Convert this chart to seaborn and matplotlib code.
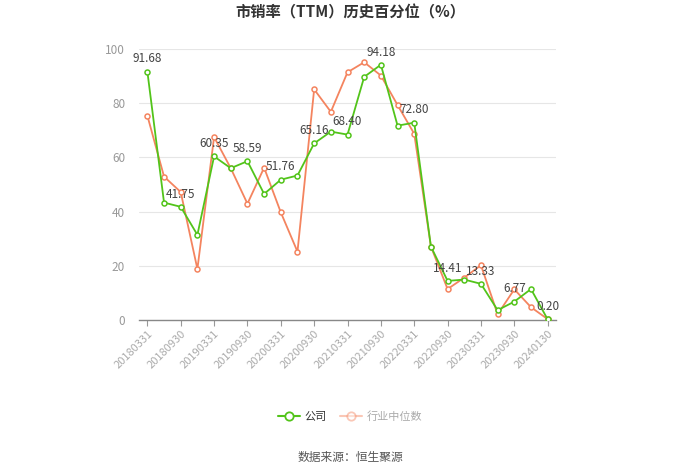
import matplotlib
matplotlib.use("Agg")
import matplotlib.pyplot as plt
import seaborn as sns
import pandas as pd
from matplotlib.lines import Line2D

dates = ["20180331", "20180630", "20180930", "20181231", "20190331", "20190630",
         "20190930", "20191231", "20200331", "20200630", "20200930", "20201231",
         "20210331", "20210630", "20210930", "20211231", "20220331", "20220630",
         "20220930", "20221231", "20230331", "20230630", "20230930", "20231231",
         "20240130"]
company = [91.68, 43.3, 41.75, 31.4, 60.35, 56.0, 58.59, 46.5, 51.76, 53.3,
           65.16, 69.5, 68.40, 89.7, 94.18, 71.7, 72.80, 27.1, 14.41, 14.9,
           13.33, 3.6, 6.77, 11.4, 0.20]
industry = [75.4, 52.9, 47.2, 18.8, 67.5, 56.0, 42.9, 56.2, 39.7, 25.2,
            85.1, 76.8, 91.4, 95.1, 90.2, 79.3, 68.7, 27.1, 11.4, 15.6,
            20.2, 2.1, 11.3, 4.7, 0.3]

GREEN = "#52c41a"
ORANGE = "#f4845f"

sns.set_theme(style="white")
plt.rcParams['font.family'] = ['Noto Sans CJK SC', 'DejaVu Sans']

df = pd.DataFrame({"idx": range(len(dates)), "date": dates,
                   "company": company, "industry": industry})

fig = plt.figure(figsize=(7, 4.74), dpi=100)
ax = fig.add_axes([0.1986, 0.325, 0.5957, 0.5717])

sns.lineplot(data=df, x="idx", y="industry", ax=ax, color=ORANGE, lw=1.3,
             marker="o", markersize=3.6, markerfacecolor="white",
             markeredgecolor=ORANGE, markeredgewidth=1.1, zorder=3)
sns.lineplot(data=df, x="idx", y="company", ax=ax, color=GREEN, lw=1.3,
             marker="o", markersize=3.6, markerfacecolor="white",
             markeredgecolor=GREEN, markeredgewidth=1.1, zorder=4)

for i in range(0, len(dates), 2):
    ax.text(i, company[i] + 2.3, f"{company[i]:.2f}", ha="center", va="bottom",
            fontsize=8.5, color="#444444", zorder=5)

ax.set_xlim(-0.5, len(dates) - 0.5)
ax.set_ylim(0, 100)
ax.set_yticks([0, 20, 40, 60, 80, 100])
ax.set_xticks(range(0, len(dates), 2))
ax.set_xticklabels(dates[::2], rotation=45, ha="right", rotation_mode="anchor",
                   fontsize=8, color="#aaaaaa")
ax.tick_params(axis="y", labelsize=8.5, colors="#999999", length=0, pad=10)
ax.tick_params(axis="x", length=4, color="#999999", width=0.8, bottom=True, pad=2)
ax.set_xlabel("")
ax.set_ylabel("")
ax.grid(axis="y", color="#e6e6e6", lw=0.8)
ax.grid(axis="x", visible=False)
for s in ["top", "right", "left"]:
    ax.spines[s].set_visible(False)
ax.spines["bottom"].set_color("#888888")
ax.spines["bottom"].set_linewidth(1)

fig.text(0.5, 0.974, "市销率（TTM）历史百分位（%）", ha="center", va="center",
         fontsize=11, fontweight="bold", color="#333333")

handles = [Line2D([0], [0], color=GREEN, lw=1.5, marker="o", markersize=6,
                  markerfacecolor="white", markeredgecolor=GREEN, markeredgewidth=1.3),
           Line2D([0], [0], color=ORANGE, lw=1.5, marker="o", markersize=6, alpha=0.45,
                  markerfacecolor="white", markeredgecolor=ORANGE, markeredgewidth=1.3)]
leg = fig.legend(handles, ["公司", "行业中位数"], loc="center",
                 bbox_to_anchor=(0.5, 0.122), ncol=2, frameon=False,
                 fontsize=8, handlelength=2.0, columnspacing=1.2, handletextpad=0.4)
leg.get_texts()[0].set_color("#333333")
leg.get_texts()[1].set_color("#aaaaaa")

fig.text(0.5, 0.035, "数据来源：恒生聚源", ha="center", va="center",
         fontsize=8.5, color="#555555")

fig.savefig("out.png", dpi=100)
